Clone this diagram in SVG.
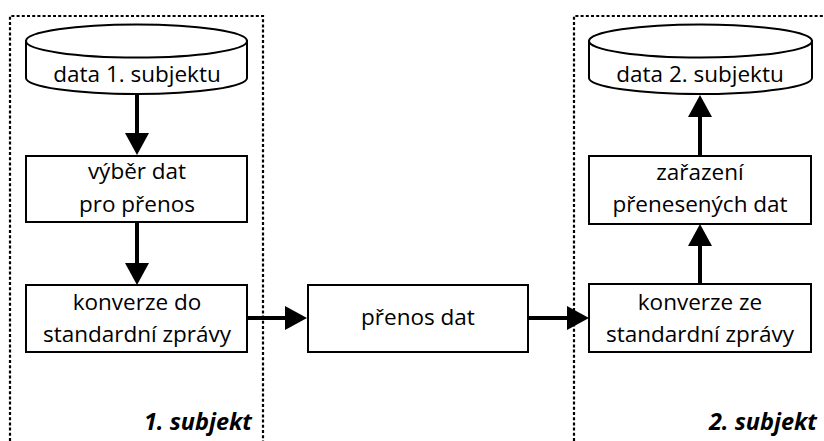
<svg xmlns="http://www.w3.org/2000/svg" width="824" height="441" viewBox="0 0 824 441">
  <style>
    .frame { fill: none; stroke: #000; stroke-width: 2.2; stroke-dasharray: 3 2.2; }
    .box { fill: #fff; stroke: #000; stroke-width: 2; }
    .lbl { font-family: "Open Sans", "Noto Sans", sans-serif; font-size: 22.5px; fill: #000; text-anchor: middle; }
    .side { font-family: "Open Sans", "Noto Sans", sans-serif; font-size: 23.5px; font-weight: bold; font-style: italic; fill: #000; text-anchor: end; }
    .conn { fill: none; stroke: #000; stroke-width: 4; marker-end: url(#head); }
  </style>
  <defs>
    <marker id="head" markerUnits="userSpaceOnUse" viewBox="0 0 22 24" refX="0" refY="12" markerWidth="22" markerHeight="24" orient="auto">
      <path d="M0,0 L22,12 L0,24 Z" fill="#000"/>
    </marker>
  </defs>

  <rect width="824" height="441" fill="#fff"/>

  <!-- subject frames -->
  <g id="frame-1">
    <path class="frame" d="M10,441 L10,16 L263,16 L263,441"/>
    <text class="side" x="252" y="430">1. subjekt</text>
  </g>
  <g id="frame-2">
    <path class="frame" d="M574,441 L574,16 L824,16"/>
    <text class="side" x="817" y="430">2. subjekt</text>
  </g>

  <!-- connectors -->
  <g id="connectors">
    <line class="conn" x1="137" y1="95" x2="137" y2="133"/>
    <line class="conn" x1="137" y1="223" x2="137" y2="263"/>
    <line class="conn" x1="248" y1="318" x2="285" y2="318"/>
    <line class="conn" x1="529" y1="318" x2="567" y2="318"/>
    <line class="conn" x1="700" y1="284" x2="700" y2="246"/>
    <line class="conn" x1="700" y1="156" x2="700" y2="117"/>
  </g>

  <!-- subject 1 -->
  <g id="db-1">
    <path class="box" d="M26,41 L26,78 A110.5,16 0 0 0 247,78 L247,41 Z"/>
    <ellipse class="box" cx="136.5" cy="41" rx="110.5" ry="16.5"/>
    <text class="lbl" x="137" y="82">data 1. subjektu</text>
  </g>
  <g id="select">
    <rect class="box" x="26" y="156" width="221" height="66"/>
    <text class="lbl" x="137" y="179">výběr dat</text>
    <text class="lbl" x="137" y="212">pro přenos</text>
  </g>
  <g id="convert-to">
    <rect class="box" x="26" y="285" width="221" height="67"/>
    <text class="lbl" x="137" y="310">konverze do</text>
    <text class="lbl" x="137" y="342">standardní zprávy</text>
  </g>

  <!-- transfer -->
  <g id="transfer">
    <rect class="box" x="308" y="285" width="220" height="67"/>
    <text class="lbl" x="418" y="325">přenos dat</text>
  </g>

  <!-- subject 2 -->
  <g id="db-2">
    <path class="box" d="M589,41 L589,78 A111.5,16 0 0 0 812,78 L812,41 Z"/>
    <ellipse class="box" cx="700.5" cy="41" rx="111.5" ry="16.5"/>
    <text class="lbl" x="700" y="82">data 2. subjektu</text>
  </g>
  <g id="insert">
    <rect class="box" x="589" y="156" width="222" height="68"/>
    <text class="lbl" x="700" y="180">zařazení</text>
    <text class="lbl" x="700" y="212">přenesených dat</text>
  </g>
  <g id="convert-from">
    <rect class="box" x="589" y="284" width="222" height="68"/>
    <text class="lbl" x="700" y="310">konverze ze</text>
    <text class="lbl" x="700" y="342">standardní zprávy</text>
  </g>
</svg>
